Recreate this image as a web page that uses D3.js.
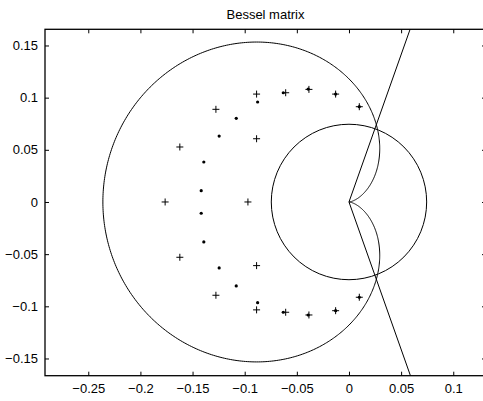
<!DOCTYPE html>
<html><head><meta charset="utf-8">
<script src="https://cdn.jsdelivr.net/npm/d3@7"></script>
<style>
body{margin:0;background:#fff}
svg{display:block}
text{font-family:"Liberation Sans",Arial,Helvetica,sans-serif;fill:#000}
</style>
</head><body>
<svg id="chart" width="483" height="401"></svg>
<script>
// ---- data ----
const titleText = "Bessel matrix";
const xTicks = [-0.25, -0.2, -0.15, -0.1, -0.05, 0, 0.05, 0.1];
const xTickLabels = ["\u22120.25", "\u22120.2", "\u22120.15", "\u22120.1", "\u22120.05", "0", "0.05", "0.1"];
const yTicks = [-0.15, -0.1, -0.05, 0, 0.05, 0.1, 0.15];
const yTickLabels = ["\u22120.15", "\u22120.1", "\u22120.05", "0", "0.05", "0.1", "0.15"];
const xDomain = [-0.2915, 0.1314];
const yDomain = [-0.1665, 0.1655];

// "+" markers
const plusX = [-0.0886, -0.1276, -0.0886, -0.1622, -0.1763, -0.0969, -0.0607, -0.0384, -0.0128, 0.0099,
               -0.1622, -0.0886, -0.1276, -0.0886, -0.0607, -0.0384, -0.0128, 0.0099];
const plusY = [0.1034, 0.0888, 0.0606, 0.0527, 0.0, 0.0, 0.1047, 0.1079, 0.1034, 0.0913,
               -0.0530, -0.0610, -0.0894, -0.1034, -0.1057, -0.1083, -0.1042, -0.0913];
// "." markers (eigenvalues)
const dotX = [-0.0876, -0.1081, -0.1245, -0.1392, -0.1417, -0.0630, -0.0391, -0.0128, 0.0099,
              -0.0876, -0.1081, -0.1245, -0.1392, -0.1417, -0.0630, -0.0391, -0.0128, 0.0099];
const dotY = [0.0958, 0.0802, 0.0632, 0.0383, 0.0108, 0.1047, 0.1082, 0.1034, 0.0913,
              -0.0965, -0.0805, -0.0632, -0.0383, -0.0108, -0.1057, -0.1083, -0.1042, -0.0913];

// curve parameters
const circleCenter = [0, 0];
const circleRadius = 0.0745;
const cardioidSize = 0.118;      // cusp at origin, leftmost point at -2*size
const rayAngleDeg = 70.5;        // rays from origin at +/- this angle
const rayLength = 0.3;

// ---- layout ----
const box = {left: 45, top: 29.3, right: 486, bottom: 375.7};
const svg = d3.select("#chart");
const x = d3.scaleLinear().domain(xDomain).range([box.left, box.right]);
const y = d3.scaleLinear().domain(yDomain).range([box.bottom, box.top]);

svg.append("defs").append("clipPath").attr("id", "clip")
  .append("rect").attr("x", box.left).attr("y", box.top)
  .attr("width", box.right - box.left).attr("height", box.bottom - box.top);

const plot = svg.append("g").attr("clip-path", "url(#clip)");

// circle
plot.append("ellipse")
  .attr("cx", x(circleCenter[0])).attr("cy", y(circleCenter[1]))
  .attr("rx", x(circleRadius) - x(0)).attr("ry", y(0) - y(circleRadius))
  .attr("fill", "none").attr("stroke", "#000").attr("stroke-width", 1);

// cardioid z = -(a/2)(1+e^{it})^2
const tParam = d3.range(0, 2 * Math.PI + 1e-9, Math.PI / 360);
const cardPts = tParam.map(t => {
  const re = 1 + Math.cos(t), im = Math.sin(t);
  const zr = re * re - im * im, zi = 2 * re * im;
  return [-cardioidSize / 2 * zr, -cardioidSize / 2 * zi];
});
const line = d3.line().x(d => x(d[0])).y(d => y(d[1]));
plot.append("path").attr("d", line(cardPts))
  .attr("fill", "none").attr("stroke", "#000").attr("stroke-width", 1);

// rays
const ang = rayAngleDeg * Math.PI / 180;
[1, -1].forEach(s => {
  plot.append("path")
    .attr("d", line([[0, 0], [rayLength * Math.cos(ang), s * rayLength * Math.sin(ang)]]))
    .attr("fill", "none").attr("stroke", "#000").attr("stroke-width", 1);
});

// dots
plot.selectAll("circle.dot").data(dotX.map((v, i) => [v, dotY[i]])).enter()
  .append("circle").attr("class", "dot")
  .attr("cx", d => x(d[0])).attr("cy", d => y(d[1])).attr("r", 1.6).attr("fill", "#000");

// plus markers
plot.selectAll("path.plus").data(plusX.map((v, i) => [v, plusY[i]])).enter()
  .append("path").attr("class", "plus")
  .attr("transform", d => `translate(${x(d[0])},${y(d[1])})`)
  .attr("d", "M-3.5,0H3.5M0,-3.5V3.5")
  .attr("stroke", "#000").attr("stroke-width", 1).attr("fill", "none");

// ---- axes ----
const tickLen = 4;
const axB = svg.append("g").attr("transform", `translate(0,${box.bottom})`)
  .call(d3.axisBottom(x).tickValues(xTicks).tickSizeInner(-tickLen).tickSizeOuter(0)
    .tickFormat((d, i) => xTickLabels[i]).tickPadding(8));
const axT = svg.append("g").attr("transform", `translate(0,${box.top})`)
  .call(d3.axisTop(x).tickValues(xTicks).tickSizeInner(-tickLen).tickSizeOuter(0).tickFormat(""));
const axL = svg.append("g").attr("transform", `translate(${box.left},0)`)
  .call(d3.axisLeft(y).tickValues(yTicks).tickSizeInner(-tickLen).tickSizeOuter(0)
    .tickFormat((d, i) => yTickLabels[i]).tickPadding(7));
const axR = svg.append("g").attr("transform", `translate(${box.right},0)`)
  .call(d3.axisRight(y).tickValues(yTicks).tickSizeInner(-tickLen).tickSizeOuter(0).tickFormat(""));

[axB, axT, axL, axR].forEach(g => {
  g.select(".domain").remove();
  g.selectAll(".tick line").attr("stroke", "#000").attr("stroke-width", 1);
  g.selectAll("text").attr("font-size", 13).attr("font-family", "'Liberation Sans',Arial,sans-serif").attr("fill", "#000");
});

svg.append("rect").attr("x", box.left).attr("y", box.top)
  .attr("width", box.right - box.left).attr("height", box.bottom - box.top)
  .attr("fill", "none").attr("stroke", "#000").attr("stroke-width", 1.3);

svg.append("text").attr("x", (box.left + box.right) / 2).attr("y", 18.5)
  .attr("text-anchor", "middle").attr("font-size", 13).text(titleText);
</script>
</body></html>
